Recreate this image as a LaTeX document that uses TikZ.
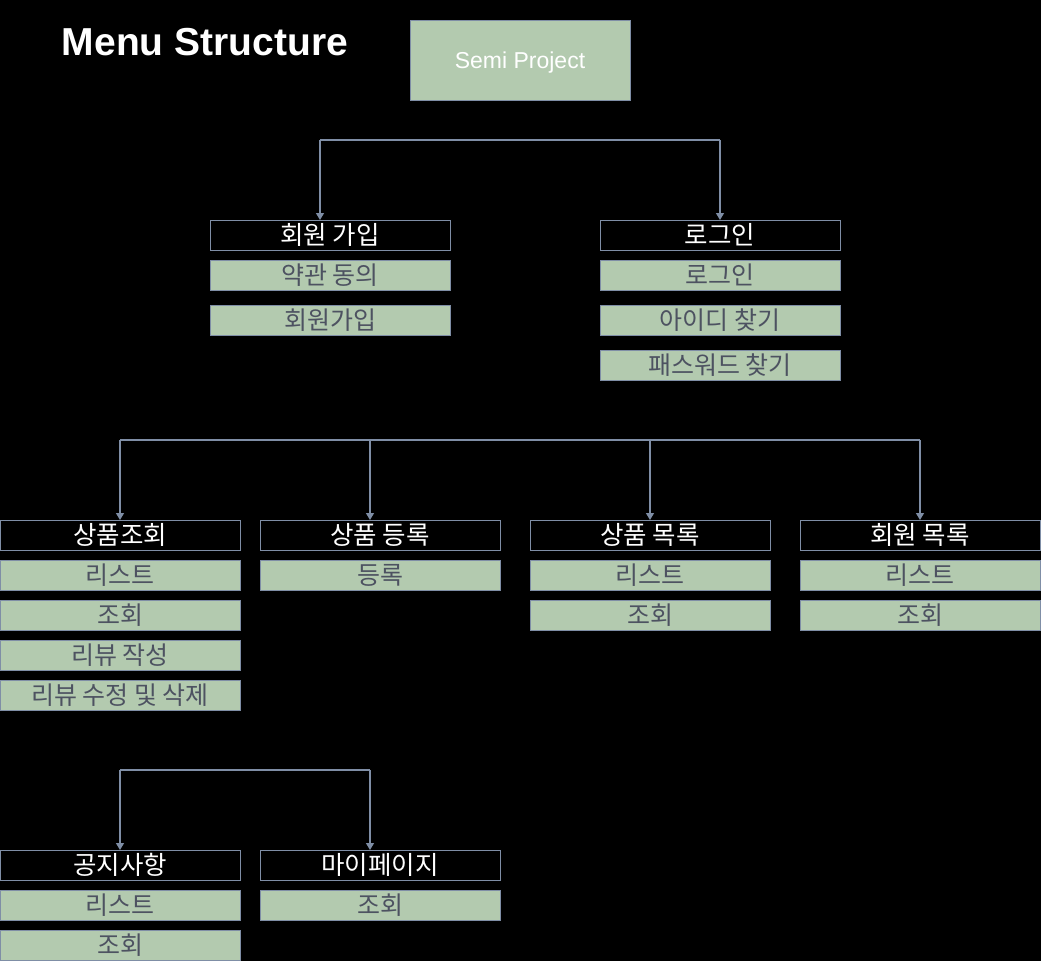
\documentclass[tikz,border=0pt]{standalone}
\usepackage{fontspec}
\setmainfont{Liberation Sans}
\newfontfamily\kr{Noto Sans CJK KR}
\usetikzlibrary{arrows.meta}
\definecolor{bordc}{RGB}{127,142,166}
\definecolor{greenc}{RGB}{179,202,175}
\definecolor{itemtxt}{RGB}{77,82,97}
\tikzset{
  hdr/.style={draw=bordc, line width=1pt, fill=black, text=white, inner sep=0pt, outer sep=0pt,
    minimum width=240pt, minimum height=30pt, font=\kr\fontsize{25.5}{25.5}\selectfont},
  itembox/.style={draw=bordc, line width=1pt, fill=greenc, text=itemtxt, inner sep=0pt, outer sep=0pt,
    minimum width=240pt, minimum height=30pt, font=\kr\fontsize{25}{25}\selectfont},
  conn/.style={draw=bordc, line width=1.2pt},
  tip/.style={conn, -{Triangle[length=7pt,width=8pt]}}
}
\begin{document}
\begin{tikzpicture}[x=1pt,y=-1pt]
\fill[black] (0,0) rectangle (1041,961);
\useasboundingbox (0,0) rectangle (1041,961);

\node[text=white, font=\bfseries\fontsize{39}{39}\selectfont] (title) at (205,42) {Menu Structure};
\node[draw=bordc, line width=1pt, fill=greenc, text=white, minimum width=220pt, minimum height=80pt,
  inner sep=0pt, outer sep=0pt, text height=16pt, text depth=0pt,
  font=\fontsize{23}{23}\selectfont] (sp) at (520,60) {Semi Project};

% Row 1
\node[hdr] (hj) at (330,235) {회원 가입};
\node[itembox] (hj1) at (330,275) {약관 동의};
\node[itembox] (hj2) at (330,320) {회원가입};

\node[hdr] (lg) at (720,235) {로그인};
\node[itembox] (lg1) at (720,275) {로그인};
\node[itembox] (lg2) at (720,320) {아이디 찾기};
\node[itembox] (lg3) at (720,365) {패스워드 찾기};

% Row 2
\node[hdr] (pv) at (120,535) {상품조회};
\node[itembox] (pv1) at (120,575) {리스트};
\node[itembox] (pv2) at (120,615) {조회};
\node[itembox] (pv3) at (120,655) {리뷰 작성};
\node[itembox] (pv4) at (120,695) {리뷰 수정 및 삭제};

\node[hdr] (pr) at (380,535) {상품 등록};
\node[itembox] (pr1) at (380,575) {등록};

\node[hdr] (pl) at (650,535) {상품 목록};
\node[itembox] (pl1) at (650,575) {리스트};
\node[itembox] (pl2) at (650,615) {조회};

\node[hdr] (ml) at (920,535) {회원 목록};
\node[itembox] (ml1) at (920,575) {리스트};
\node[itembox] (ml2) at (920,615) {조회};

% Row 3
\node[hdr] (nt) at (120,865) {공지사항};
\node[itembox] (nt1) at (120,905) {리스트};
\node[itembox] (nt2) at (120,945) {조회};

\node[hdr] (mp) at (380,865) {마이페이지};
\node[itembox] (mp1) at (380,905) {조회};

% Connectors row 1
\coordinate (a1) at (320,140);
\coordinate (a2) at (720,140);
\draw[conn] (a1) -- (a2);
\draw[tip] (a1) -- (hj.north -| a1);
\draw[tip] (a2) -- (lg.north);

% Connectors row 2
\coordinate (b1) at (120,440);
\coordinate (b2) at (370,440);
\coordinate (b3) at (650,440);
\coordinate (b4) at (920,440);
\draw[conn] (b1) -- (b4);
\draw[tip] (b1) -- (pv.north);
\draw[tip] (b2) -- (pr.north -| b2);
\draw[tip] (b3) -- (pl.north);
\draw[tip] (b4) -- (ml.north);

% Connectors row 3
\coordinate (c1) at (120,770);
\coordinate (c2) at (370,770);
\draw[conn] (c1) -- (c2);
\draw[tip] (c1) -- (nt.north);
\draw[tip] (c2) -- (mp.north -| c2);
\end{tikzpicture}
\end{document}
